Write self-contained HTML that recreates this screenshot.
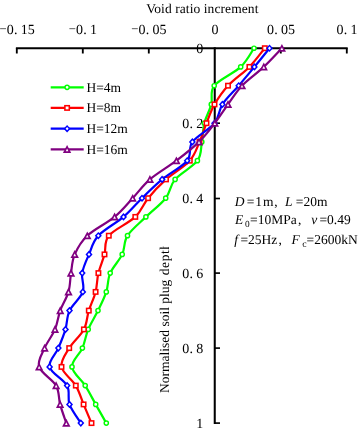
<!DOCTYPE html>
<html><head><meta charset="utf-8"><title>Void ratio increment</title>
<style>
html,body{margin:0;padding:0;background:#fff}
svg{display:block}
text{font-family:"Liberation Serif","Noto Serif CJK SC",serif;fill:#000;text-rendering:geometricPrecision}
</style></head><body>
<svg width="358" height="428" viewBox="0 0 358 428">
<rect width="358" height="428" fill="#fff"/>
<text x="146.2" y="13.1" font-size="13.5" textLength="112.2" lengthAdjust="spacing">Void ratio increment</text>
<text y="33.6" font-size="14.0"><tspan x="-0.5" dy="-0.6" font-size="12.7">−</tspan><tspan x="6.8 14.1 20.8 27.8" dy="0.6">0.15</tspan></text>
<text y="33.6" font-size="14.0"><tspan x="68.7" dy="-0.6" font-size="12.7">−</tspan><tspan x="76.0 83.2 90.0" dy="0.6">0.1</tspan></text>
<text y="33.6" font-size="14.0"><tspan x="131.2" dy="-0.6" font-size="12.7">−</tspan><tspan x="138.5 145.8 152.5 159.5" dy="0.6">0.05</tspan></text>
<text x="211.5" y="33.6" font-size="14.0">0</text>
<text x="266.9 274.2 280.9 287.9" y="33.6" font-size="14.0">0.05</text>
<text x="336.4 343.8 350.4" y="33.6" font-size="14.0">0.1</text>
<text x="196.3" y="53.300000000000004" font-size="14.0">0</text>
<text x="182.3 189.6 196.3" y="128.28" font-size="14.0">0.2</text>
<text x="182.3 189.6 196.3" y="203.26000000000002" font-size="14.0">0.4</text>
<text x="182.3 189.6 196.3" y="278.24" font-size="14.0">0.6</text>
<text x="182.3 189.6 196.3" y="353.22" font-size="14.0">0.8</text>
<text x="196.3" y="428.20000000000005" font-size="14.0">1</text>
<path d="M15.9 48.2H347.7" stroke="#000" stroke-width="1.9" fill="none"/>
<path d="M214.75 47.2V424" stroke="#000" stroke-width="2.05" fill="none"/>
<path d="M16.8 48.2V53.5" stroke="#000" stroke-width="1.85"/>
<path d="M82.8 48.2V53.5" stroke="#000" stroke-width="1.85"/>
<path d="M148.8 48.2V53.5" stroke="#000" stroke-width="1.85"/>
<path d="M280.8 48.2V53.5" stroke="#000" stroke-width="1.85"/>
<path d="M346.8 48.2V53.5" stroke="#000" stroke-width="1.85"/>
<path d="M214.75 123.2H220" stroke="#000" stroke-width="1.65"/>
<path d="M214.75 198.5H220" stroke="#000" stroke-width="1.65"/>
<path d="M214.75 273.1H220" stroke="#000" stroke-width="1.65"/>
<path d="M214.75 348.1H220" stroke="#000" stroke-width="1.65"/>
<path d="M214.75 423.1H220" stroke="#000" stroke-width="1.65"/>
<path d="M254.0 48.2C251.8 51.3 247.3 60.7 240.7 66.9C234.1 73.2 219.1 79.4 214.2 85.7C209.3 91.9 213.0 98.2 211.3 104.4C209.7 110.7 205.9 116.9 204.3 123.2C202.7 129.4 203.0 135.7 201.8 141.9C200.7 148.2 201.9 154.4 197.4 160.7C192.9 166.9 180.4 173.2 175.1 179.4C169.8 185.7 170.6 191.9 165.7 198.2C160.8 204.4 152.3 210.7 145.9 216.9C139.5 223.2 131.4 229.4 127.5 235.7C123.5 241.9 125.1 248.1 122.2 254.4C119.3 260.6 112.9 266.9 110.2 273.1C107.5 279.4 108.3 285.6 106.3 291.9C104.3 298.1 101.0 304.4 98.0 310.6C95.0 316.9 90.8 323.1 88.2 329.4C85.6 335.6 85.1 341.9 82.4 348.1C79.7 354.4 71.5 360.6 72.0 366.9C72.5 373.1 81.2 379.4 85.2 385.6C89.2 391.9 92.2 398.1 95.7 404.4C99.2 410.6 104.5 420.0 106.3 423.1" fill="none" stroke="#00ff00" stroke-width="2.2" stroke-linejoin="round"/>
<circle cx="254.0" cy="48.2" r="2.1" fill="#fff" stroke="#00ff00" stroke-width="1.45"/>
<circle cx="240.7" cy="66.9" r="2.1" fill="#fff" stroke="#00ff00" stroke-width="1.45"/>
<circle cx="214.2" cy="85.7" r="2.1" fill="#fff" stroke="#00ff00" stroke-width="1.45"/>
<circle cx="211.3" cy="104.4" r="2.1" fill="#fff" stroke="#00ff00" stroke-width="1.45"/>
<circle cx="204.3" cy="123.2" r="2.1" fill="#fff" stroke="#00ff00" stroke-width="1.45"/>
<circle cx="201.8" cy="141.9" r="2.1" fill="#fff" stroke="#00ff00" stroke-width="1.45"/>
<circle cx="197.4" cy="160.7" r="2.1" fill="#fff" stroke="#00ff00" stroke-width="1.45"/>
<circle cx="175.1" cy="179.4" r="2.1" fill="#fff" stroke="#00ff00" stroke-width="1.45"/>
<circle cx="165.7" cy="198.2" r="2.1" fill="#fff" stroke="#00ff00" stroke-width="1.45"/>
<circle cx="145.9" cy="216.9" r="2.1" fill="#fff" stroke="#00ff00" stroke-width="1.45"/>
<circle cx="127.5" cy="235.7" r="2.1" fill="#fff" stroke="#00ff00" stroke-width="1.45"/>
<circle cx="122.2" cy="254.4" r="2.1" fill="#fff" stroke="#00ff00" stroke-width="1.45"/>
<circle cx="110.2" cy="273.1" r="2.1" fill="#fff" stroke="#00ff00" stroke-width="1.45"/>
<circle cx="106.3" cy="291.9" r="2.1" fill="#fff" stroke="#00ff00" stroke-width="1.45"/>
<circle cx="98.0" cy="310.6" r="2.1" fill="#fff" stroke="#00ff00" stroke-width="1.45"/>
<circle cx="88.2" cy="329.4" r="2.1" fill="#fff" stroke="#00ff00" stroke-width="1.45"/>
<circle cx="82.4" cy="348.1" r="2.1" fill="#fff" stroke="#00ff00" stroke-width="1.45"/>
<circle cx="72.0" cy="366.9" r="2.1" fill="#fff" stroke="#00ff00" stroke-width="1.45"/>
<circle cx="85.2" cy="385.6" r="2.1" fill="#fff" stroke="#00ff00" stroke-width="1.45"/>
<circle cx="95.7" cy="404.4" r="2.1" fill="#fff" stroke="#00ff00" stroke-width="1.45"/>
<circle cx="106.3" cy="423.1" r="2.1" fill="#fff" stroke="#00ff00" stroke-width="1.45"/>
<path d="M264.8 48.2C262.2 51.3 255.5 60.7 249.4 66.9C243.3 73.2 233.8 79.4 228.0 85.7C222.2 91.9 218.1 98.2 214.5 104.4C210.9 110.7 209.0 116.9 206.5 123.2C204.0 129.4 202.3 135.7 199.5 141.9C196.7 148.2 195.4 154.4 189.8 160.7C184.2 166.9 172.9 173.2 166.0 179.4C159.1 185.7 153.2 191.9 148.1 198.2C143.0 204.4 141.9 210.7 135.3 216.9C128.8 223.2 113.9 229.4 108.8 235.7C103.7 241.9 106.2 248.1 104.5 254.4C102.8 260.6 99.9 266.9 98.4 273.1C96.9 279.4 97.2 285.6 95.6 291.9C94.0 298.1 90.8 304.4 88.8 310.6C86.8 316.9 87.2 323.1 83.9 329.4C80.6 335.6 72.9 341.9 69.2 348.1C65.5 354.4 60.4 360.6 61.5 366.9C62.6 373.1 72.1 379.4 75.8 385.6C79.5 391.9 81.0 398.1 83.6 404.4C86.2 410.6 90.2 420.0 91.5 423.1" fill="none" stroke="#ff0000" stroke-width="2.2" stroke-linejoin="round"/>
<rect x="262.6" y="46.0" width="4.4" height="4.4" fill="#fff" stroke="#ff0000" stroke-width="1.55"/>
<rect x="247.2" y="64.7" width="4.4" height="4.4" fill="#fff" stroke="#ff0000" stroke-width="1.55"/>
<rect x="225.8" y="83.5" width="4.4" height="4.4" fill="#fff" stroke="#ff0000" stroke-width="1.55"/>
<rect x="212.3" y="102.2" width="4.4" height="4.4" fill="#fff" stroke="#ff0000" stroke-width="1.55"/>
<rect x="204.3" y="121.0" width="4.4" height="4.4" fill="#fff" stroke="#ff0000" stroke-width="1.55"/>
<rect x="197.3" y="139.7" width="4.4" height="4.4" fill="#fff" stroke="#ff0000" stroke-width="1.55"/>
<rect x="187.6" y="158.5" width="4.4" height="4.4" fill="#fff" stroke="#ff0000" stroke-width="1.55"/>
<rect x="163.8" y="177.2" width="4.4" height="4.4" fill="#fff" stroke="#ff0000" stroke-width="1.55"/>
<rect x="145.9" y="196.0" width="4.4" height="4.4" fill="#fff" stroke="#ff0000" stroke-width="1.55"/>
<rect x="133.1" y="214.7" width="4.4" height="4.4" fill="#fff" stroke="#ff0000" stroke-width="1.55"/>
<rect x="106.6" y="233.5" width="4.4" height="4.4" fill="#fff" stroke="#ff0000" stroke-width="1.55"/>
<rect x="102.3" y="252.2" width="4.4" height="4.4" fill="#fff" stroke="#ff0000" stroke-width="1.55"/>
<rect x="96.2" y="270.9" width="4.4" height="4.4" fill="#fff" stroke="#ff0000" stroke-width="1.55"/>
<rect x="93.4" y="289.7" width="4.4" height="4.4" fill="#fff" stroke="#ff0000" stroke-width="1.55"/>
<rect x="86.6" y="308.4" width="4.4" height="4.4" fill="#fff" stroke="#ff0000" stroke-width="1.55"/>
<rect x="81.7" y="327.2" width="4.4" height="4.4" fill="#fff" stroke="#ff0000" stroke-width="1.55"/>
<rect x="67.0" y="345.9" width="4.4" height="4.4" fill="#fff" stroke="#ff0000" stroke-width="1.55"/>
<rect x="59.3" y="364.7" width="4.4" height="4.4" fill="#fff" stroke="#ff0000" stroke-width="1.55"/>
<rect x="73.6" y="383.4" width="4.4" height="4.4" fill="#fff" stroke="#ff0000" stroke-width="1.55"/>
<rect x="81.4" y="402.2" width="4.4" height="4.4" fill="#fff" stroke="#ff0000" stroke-width="1.55"/>
<rect x="89.3" y="420.9" width="4.4" height="4.4" fill="#fff" stroke="#ff0000" stroke-width="1.55"/>
<path d="M269.5 48.2C267.0 51.3 259.5 60.7 254.4 66.9C249.3 73.2 244.0 79.4 238.7 85.7C233.4 91.9 226.4 98.2 222.4 104.4C218.4 110.7 219.5 116.9 214.5 123.2C209.5 129.4 197.0 135.7 192.4 141.9C187.8 148.2 192.2 154.4 187.2 160.7C182.1 166.9 169.6 173.2 162.1 179.4C154.6 185.7 148.4 191.9 142.0 198.2C135.6 204.4 130.8 210.7 123.5 216.9C116.2 223.2 104.0 229.4 98.3 235.7C92.5 241.9 91.7 248.1 89.0 254.4C86.3 260.6 83.2 266.9 82.2 273.1C81.2 279.4 84.9 285.6 82.8 291.9C80.7 298.1 72.4 304.4 69.5 310.6C66.6 316.9 67.3 323.1 65.5 329.4C63.6 335.6 61.0 341.9 58.4 348.1C55.8 354.4 48.2 360.6 49.6 366.9C51.0 373.1 63.8 379.4 67.1 385.6C70.4 391.9 67.2 398.1 69.5 404.4C71.8 410.6 78.9 420.0 80.8 423.1" fill="none" stroke="#0000ff" stroke-width="2.2" stroke-linejoin="round"/>
<path d="M269.5 44.4L273.0 48.2L269.5 52.0L266.0 48.2Z" fill="#0000ff"/><path d="M269.5 46.6L271.0 48.2L269.5 49.9L268.0 48.2Z" fill="#fff"/>
<path d="M254.4 63.1L257.9 66.9L254.4 70.7L250.9 66.9Z" fill="#0000ff"/><path d="M254.4 65.3L255.9 66.9L254.4 68.6L252.9 66.9Z" fill="#fff"/>
<path d="M238.7 81.9L242.2 85.7L238.7 89.5L235.2 85.7Z" fill="#0000ff"/><path d="M238.7 84.0L240.2 85.7L238.7 87.3L237.2 85.7Z" fill="#fff"/>
<path d="M222.4 100.6L225.9 104.4L222.4 108.2L218.9 104.4Z" fill="#0000ff"/><path d="M222.4 102.8L223.9 104.4L222.4 106.1L220.9 104.4Z" fill="#fff"/>
<path d="M214.5 119.4L218.0 123.2L214.5 127.0L211.0 123.2Z" fill="#0000ff"/><path d="M214.5 121.5L216.0 123.2L214.5 124.8L213.0 123.2Z" fill="#fff"/>
<path d="M192.4 138.1L195.9 141.9L192.4 145.7L188.9 141.9Z" fill="#0000ff"/><path d="M192.4 140.3L193.9 141.9L192.4 143.6L190.9 141.9Z" fill="#fff"/>
<path d="M187.2 156.9L190.7 160.7L187.2 164.5L183.7 160.7Z" fill="#0000ff"/><path d="M187.2 159.0L188.7 160.7L187.2 162.3L185.7 160.7Z" fill="#fff"/>
<path d="M162.1 175.6L165.6 179.4L162.1 183.2L158.6 179.4Z" fill="#0000ff"/><path d="M162.1 177.8L163.6 179.4L162.1 181.1L160.6 179.4Z" fill="#fff"/>
<path d="M142.0 194.4L145.5 198.2L142.0 202.0L138.5 198.2Z" fill="#0000ff"/><path d="M142.0 196.5L143.5 198.2L142.0 199.8L140.5 198.2Z" fill="#fff"/>
<path d="M123.5 213.1L127.0 216.9L123.5 220.7L120.0 216.9Z" fill="#0000ff"/><path d="M123.5 215.3L125.0 216.9L123.5 218.6L122.0 216.9Z" fill="#fff"/>
<path d="M98.3 231.9L101.8 235.7L98.3 239.5L94.8 235.7Z" fill="#0000ff"/><path d="M98.3 234.0L99.8 235.7L98.3 237.3L96.8 235.7Z" fill="#fff"/>
<path d="M89.0 250.6L92.5 254.4L89.0 258.2L85.5 254.4Z" fill="#0000ff"/><path d="M89.0 252.7L90.5 254.4L89.0 256.0L87.5 254.4Z" fill="#fff"/>
<path d="M82.2 269.3L85.7 273.1L82.2 276.9L78.7 273.1Z" fill="#0000ff"/><path d="M82.2 271.5L83.7 273.1L82.2 274.8L80.7 273.1Z" fill="#fff"/>
<path d="M82.8 288.1L86.3 291.9L82.8 295.7L79.3 291.9Z" fill="#0000ff"/><path d="M82.8 290.2L84.3 291.9L82.8 293.5L81.3 291.9Z" fill="#fff"/>
<path d="M69.5 306.8L73.0 310.6L69.5 314.4L66.0 310.6Z" fill="#0000ff"/><path d="M69.5 309.0L71.0 310.6L69.5 312.3L68.0 310.6Z" fill="#fff"/>
<path d="M65.5 325.6L69.0 329.4L65.5 333.2L62.0 329.4Z" fill="#0000ff"/><path d="M65.5 327.7L67.0 329.4L65.5 331.0L64.0 329.4Z" fill="#fff"/>
<path d="M58.4 344.3L61.9 348.1L58.4 351.9L54.9 348.1Z" fill="#0000ff"/><path d="M58.4 346.5L59.9 348.1L58.4 349.8L56.9 348.1Z" fill="#fff"/>
<path d="M49.6 363.1L53.1 366.9L49.6 370.7L46.1 366.9Z" fill="#0000ff"/><path d="M49.6 365.2L51.1 366.9L49.6 368.5L48.1 366.9Z" fill="#fff"/>
<path d="M67.1 381.8L70.6 385.6L67.1 389.4L63.6 385.6Z" fill="#0000ff"/><path d="M67.1 384.0L68.6 385.6L67.1 387.3L65.6 385.6Z" fill="#fff"/>
<path d="M69.5 400.6L73.0 404.4L69.5 408.2L66.0 404.4Z" fill="#0000ff"/><path d="M69.5 402.7L71.0 404.4L69.5 406.0L68.0 404.4Z" fill="#fff"/>
<path d="M80.8 419.3L84.3 423.1L80.8 426.9L77.3 423.1Z" fill="#0000ff"/><path d="M80.8 421.5L82.3 423.1L80.8 424.8L79.3 423.1Z" fill="#fff"/>
<path d="M281.9 48.2C278.9 51.3 270.4 60.7 263.8 66.9C257.2 73.2 248.0 79.4 242.0 85.7C236.0 91.9 232.5 98.2 228.0 104.4C223.5 110.7 219.6 116.9 214.8 123.2C210.0 129.4 205.4 135.7 199.0 141.9C192.6 148.2 184.6 154.4 176.4 160.7C168.2 166.9 157.2 173.2 149.9 179.4C142.6 185.7 138.6 191.9 132.7 198.2C126.8 204.4 122.2 210.7 114.6 216.9C107.0 223.2 93.9 229.4 87.3 235.7C80.7 241.9 77.4 248.1 74.7 254.4C72.0 260.6 72.0 266.9 71.0 273.1C70.0 279.4 70.3 285.6 68.5 291.9C66.7 298.1 62.5 304.4 60.2 310.6C58.0 316.9 57.6 323.1 55.0 329.4C52.4 335.6 47.2 341.9 44.6 348.1C42.0 354.4 37.2 360.6 39.1 366.9C41.0 373.1 52.6 379.4 56.1 385.6C59.6 391.9 58.4 398.1 60.1 404.4C61.8 410.6 65.3 420.0 66.3 423.1" fill="none" stroke="#800080" stroke-width="2.2" stroke-linejoin="round"/>
<path d="M281.9 43.9L286.0 51.8L277.8 51.8Z" fill="#800080"/><path d="M281.9 47.4L283.2 50.1L280.5 50.1Z" fill="#fff"/>
<path d="M263.8 62.6L267.9 70.5L259.7 70.5Z" fill="#800080"/><path d="M263.8 66.1L265.2 68.8L262.4 68.8Z" fill="#fff"/>
<path d="M242.0 81.4L246.2 89.3L237.8 89.3Z" fill="#800080"/><path d="M242.0 84.9L243.3 87.6L240.7 87.6Z" fill="#fff"/>
<path d="M228.0 100.1L232.2 108.0L223.8 108.0Z" fill="#800080"/><path d="M228.0 103.6L229.3 106.3L226.7 106.3Z" fill="#fff"/>
<path d="M214.8 118.9L219.0 126.8L210.7 126.8Z" fill="#800080"/><path d="M214.8 122.4L216.2 125.1L213.5 125.1Z" fill="#fff"/>
<path d="M199.0 137.6L203.2 145.5L194.8 145.5Z" fill="#800080"/><path d="M199.0 141.1L200.3 143.8L197.7 143.8Z" fill="#fff"/>
<path d="M176.4 156.4L180.6 164.3L172.2 164.3Z" fill="#800080"/><path d="M176.4 159.9L177.8 162.6L175.1 162.6Z" fill="#fff"/>
<path d="M149.9 175.1L154.1 183.0L145.8 183.0Z" fill="#800080"/><path d="M149.9 178.6L151.2 181.3L148.6 181.3Z" fill="#fff"/>
<path d="M132.7 193.9L136.8 201.8L128.5 201.8Z" fill="#800080"/><path d="M132.7 197.4L134.0 200.1L131.3 200.1Z" fill="#fff"/>
<path d="M114.6 212.6L118.8 220.5L110.4 220.5Z" fill="#800080"/><path d="M114.6 216.1L115.9 218.8L113.2 218.8Z" fill="#fff"/>
<path d="M87.3 231.4L91.5 239.3L83.1 239.3Z" fill="#800080"/><path d="M87.3 234.9L88.6 237.6L86.0 237.6Z" fill="#fff"/>
<path d="M74.7 250.1L78.9 258.0L70.5 258.0Z" fill="#800080"/><path d="M74.7 253.6L76.0 256.3L73.4 256.3Z" fill="#fff"/>
<path d="M71.0 268.8L75.2 276.7L66.8 276.7Z" fill="#800080"/><path d="M71.0 272.3L72.3 275.0L69.7 275.0Z" fill="#fff"/>
<path d="M68.5 287.6L72.7 295.5L64.3 295.5Z" fill="#800080"/><path d="M68.5 291.1L69.8 293.8L67.2 293.8Z" fill="#fff"/>
<path d="M60.2 306.3L64.4 314.2L56.1 314.2Z" fill="#800080"/><path d="M60.2 309.8L61.6 312.5L58.9 312.5Z" fill="#fff"/>
<path d="M55.0 325.1L59.1 333.0L50.9 333.0Z" fill="#800080"/><path d="M55.0 328.6L56.4 331.3L53.6 331.3Z" fill="#fff"/>
<path d="M44.6 343.8L48.8 351.7L40.5 351.7Z" fill="#800080"/><path d="M44.6 347.3L46.0 350.0L43.2 350.0Z" fill="#fff"/>
<path d="M39.1 362.6L43.2 370.5L35.0 370.5Z" fill="#800080"/><path d="M39.1 366.1L40.5 368.8L37.8 368.8Z" fill="#fff"/>
<path d="M56.1 381.3L60.2 389.2L52.0 389.2Z" fill="#800080"/><path d="M56.1 384.8L57.5 387.5L54.8 387.5Z" fill="#fff"/>
<path d="M60.1 400.1L64.2 408.0L56.0 408.0Z" fill="#800080"/><path d="M60.1 403.6L61.5 406.3L58.8 406.3Z" fill="#fff"/>
<path d="M66.3 418.8L70.5 426.7L62.1 426.7Z" fill="#800080"/><path d="M66.3 422.3L67.6 425.0L65.0 425.0Z" fill="#fff"/>
<line x1="50.7" y1="87.3" x2="83.7" y2="87.3" stroke="#00ff00" stroke-width="2.2"/>
<circle cx="67.1" cy="87.3" r="2.1" fill="#fff" stroke="#00ff00" stroke-width="1.45"/>
<text x="86.4" y="91.8" font-size="13.5">H=4m</text>
<line x1="50.7" y1="107.9" x2="83.7" y2="107.9" stroke="#ff0000" stroke-width="2.2"/>
<rect x="64.9" y="105.7" width="4.4" height="4.4" fill="#fff" stroke="#ff0000" stroke-width="1.55"/>
<text x="86.4" y="112.4" font-size="13.5">H=8m</text>
<line x1="50.7" y1="128.7" x2="83.7" y2="128.7" stroke="#0000ff" stroke-width="2.2"/>
<path d="M67.1 124.9L70.6 128.7L67.1 132.5L63.6 128.7Z" fill="#0000ff"/><path d="M67.1 127.0L68.6 128.7L67.1 130.3L65.6 128.7Z" fill="#fff"/>
<text x="86.4" y="133.2" font-size="13.5">H=12m</text>
<line x1="50.7" y1="149.4" x2="83.7" y2="149.4" stroke="#800080" stroke-width="2.2"/>
<path d="M67.1 145.1L71.2 153.0L62.9 153.0Z" fill="#800080"/><path d="M67.1 148.6L68.4 151.3L65.8 151.3Z" fill="#fff"/>
<text x="86.4" y="153.9" font-size="13.5">H=16m</text>
<g font-size="13.5">
<text y="206.3"><tspan x="234.7" font-style="italic">D</tspan><tspan x="246.7" textLength="26.9" lengthAdjust="spacing">=1m</tspan><tspan x="274.2">,</tspan><tspan x="284.9" font-style="italic">L</tspan><tspan x="295.8">=20m</tspan></text>
<text y="224.3"><tspan x="234.9" font-style="italic">E</tspan><tspan x="244.9" dy="2.6" font-size="9.3">0</tspan><tspan x="250.1" dy="-2.6">=10MPa</tspan><tspan x="298.1">,</tspan><tspan x="311.2" font-style="italic">v</tspan><tspan x="319.4">=0.49</tspan></text>
<text y="243.9"><tspan x="234.2" font-style="italic">f</tspan><tspan x="240.4">=25Hz</tspan><tspan x="278.5">,</tspan><tspan x="291.5" font-style="italic">F</tspan><tspan x="302.2" dy="2.6" font-size="9.8">c</tspan><tspan x="306.6" dy="-2.6">=2600kN</tspan></text>
</g>
<clipPath id="yc"><rect x="150" y="246.6" width="40" height="160"/></clipPath>
<g clip-path="url(#yc)"><text transform="translate(169.25 392.9) rotate(-90)" font-size="13.5">Normalised soil plug <tspan dx="1.1" letter-spacing="0.55">depth</tspan></text></g>
</svg>
</body></html>
